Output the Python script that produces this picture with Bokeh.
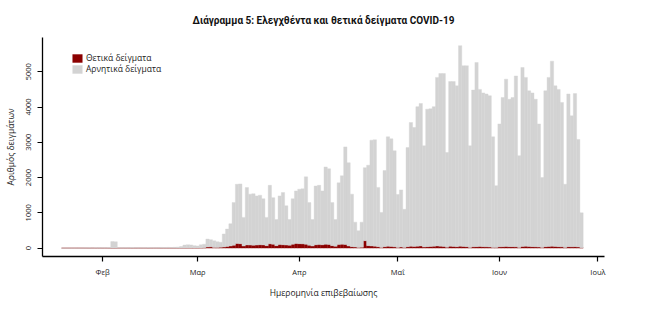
import pandas as pd
from bokeh.plotting import figure
from bokeh.models import Range1d, FixedTicker, Legend, LegendItem, ColumnDataSource
from bokeh.embed import file_html
from bokeh.resources import INLINE

start_date = "2020-01-20"

# Total samples tested per day (positives + negatives)
tests = [
    0, 0, 0, 0, 0, 0, 4,
    6, 8, 5, 10, 7, 12, 9,
    14, 185, 180, 12, 8, 10, 9,
    14, 11, 8, 12, 10, 15, 13,
    9, 12, 18, 14, 20, 16, 22,
    30, 45, 85, 95, 90, 70, 60,
    95, 110, 255, 240, 205, 180, 165,
    400, 540, 690, 1290, 1810, 1820, 870,
    1715, 1530, 1540, 1480, 1500, 1400, 870,
    1780, 1430, 810, 1480, 1575, 1200, 810,
    1400, 1620, 1670, 1680, 2020, 1290, 810,
    1760, 1780, 1620, 2300, 2250, 1290, 810,
    1850, 2050, 2870, 2420, 1530, 735, 490,
    735, 2280, 2350, 3060, 3070, 1720, 1010,
    2200, 3155, 3100, 2760, 1520, 1650, 1100,
    2850, 3560, 3420, 4010, 4100, 2900, 3940,
    3950, 4010, 4840, 4950, 4950, 2710, 4720,
    4720, 4600, 5740, 5170, 5170, 2900, 4480,
    5260, 4500, 4400, 4370, 4320, 3155, 1770,
    3520, 4270, 4790, 4220, 4270, 4880, 2620,
    5120, 4840, 4460, 4400, 4220, 3520, 2000,
    4460, 4840, 5300, 4600, 4500, 4130, 1810,
    4370, 3750, 4380, 3080, 1000,
]

# Positive samples per day
positives = [
    0, 0, 0, 0, 0, 0, 0,
    0, 0, 0, 0, 0, 0, 0,
    0, 0, 0, 0, 0, 0, 0,
    0, 0, 0, 0, 0, 0, 0,
    0, 0, 0, 0, 0, 0, 0,
    0, 0, 1, 1, 2, 3, 2,
    5, 10, 30, 35, 20, 15, 25,
    30, 45, 60, 80, 130, 125, 60,
    90, 85, 80, 85, 95, 90, 70,
    120, 110, 70, 100, 95, 85, 80,
    110, 130, 125, 120, 110, 80, 60,
    95, 100, 95, 110, 105, 70, 50,
    100, 110, 105, 60, 40, 30, 20,
    25, 210, 70, 60, 55, 40, 20,
    40, 50, 45, 35, 20, 30, 15,
    40, 50, 45, 55, 60, 30, 40,
    45, 50, 60, 55, 45, 25, 50,
    45, 40, 55, 45, 40, 20, 35,
    40, 45, 40, 35, 30, 20, 15,
    35, 40, 45, 40, 40, 35, 20,
    45, 50, 45, 40, 35, 30, 20,
    40, 45, 50, 45, 40, 35, 15,
    40, 35, 40, 30, 10,
]

month_starts = ["2020-02-01", "2020-03-01", "2020-04-01", "2020-05-01", "2020-06-01", "2020-07-01"]
month_labels = ["Φεβ", "Μαρ", "Απρ", "Μαΐ", "Ιουν", "Ιουλ"]
y_ticks = [0, 1000, 2000, 3000, 4000, 5000]

title_text = "Διάγραμμα 5: Ελεγχθέντα και θετικά δείγματα COVID-19"
x_label = "Ημερομηνία επιβεβαίωσης"
y_label = "Αριθμός δειγμάτων"
series_labels = ["Θετικά δείγματα", "Αρνητικά δείγματα"]

dates = pd.date_range(start_date, periods=len(tests))
day = list(dates.dayofyear - 1)
month_ticks = [int(pd.Timestamp(m).dayofyear - 1) for m in month_starts]

FONT = "Open Sans"
TXT = "#222222"

p = figure(width=646, height=327, output_backend="svg", toolbar_location=None,
           x_range=Range1d(12.7, 184.0), y_range=Range1d(-238, 5971),
           min_border_left=42, min_border_right=42, min_border_top=37, min_border_bottom=71)
p.outline_line_color = None
p.grid.visible = False

src = ColumnDataSource(dict(day=day, pos=positives, tests=tests))
r_pos = p.vbar(x="day", width=1.0, bottom=0, top="pos", source=src,
               fill_color="#8B0000", line_color="#8B0000", line_width=0.4)
r_neg = p.vbar(x="day", width=1.0, bottom="pos", top="tests", source=src,
               fill_color="#D3D3D3", line_color="#D3D3D3", line_width=0.4)

# Title
p.title.text = title_text
p.title.align = "center"
p.title.text_font = "Roboto"
p.title.text_font_size = "10px"
p.title.text_font_style = "bold"
p.title.text_color = "#111111"
p.title.standoff = 23

# X axis
xa = p.xaxis[0]
xa.ticker = FixedTicker(ticks=month_ticks)
xa.major_label_overrides = {t: l for t, l in zip(month_ticks, month_labels)}
xa.minor_tick_line_color = None
xa.major_tick_out = 5
xa.major_tick_in = 0
xa.axis_line_width = 1.3
xa.major_tick_line_width = 1.2
xa.major_label_standoff = 5
xa.major_label_text_font = FONT
xa.major_label_text_font_size = "7.5px"
xa.major_label_text_color = TXT
xa.axis_label = x_label
xa.axis_label_text_font = FONT
xa.axis_label_text_font_size = "8.5px"
xa.axis_label_text_font_style = "normal"
xa.axis_label_text_color = TXT
xa.axis_label_standoff = 7

# Y axis
ya = p.yaxis[0]
ya.ticker = FixedTicker(ticks=y_ticks)
ya.minor_tick_line_color = None
ya.major_tick_out = 5
ya.major_tick_in = 0
ya.axis_line_width = 1.3
ya.major_tick_line_width = 1.2
ya.major_label_orientation = "vertical"
ya.major_label_standoff = 6
ya.major_label_text_font = FONT
ya.major_label_text_font_size = "7.5px"
ya.major_label_text_color = TXT
ya.axis_label = y_label
ya.axis_label_text_font = FONT
ya.axis_label_text_font_size = "8.5px"
ya.axis_label_text_font_style = "normal"
ya.axis_label_text_color = TXT
ya.axis_label_standoff = 8

legend = Legend(items=[LegendItem(label=series_labels[0], renderers=[r_pos]),
                       LegendItem(label=series_labels[1], renderers=[r_neg])],
                location=(29, 182), orientation="vertical",
                border_line_color=None, background_fill_alpha=0,
                padding=0, spacing=0, margin=0,
                glyph_width=12, glyph_height=10, label_height=10, label_standoff=3,
                label_text_font=FONT, label_text_font_size="8.5px", label_text_color=TXT)
p.add_layout(legend)

open("out.html", "w").write(file_html(p, INLINE))
